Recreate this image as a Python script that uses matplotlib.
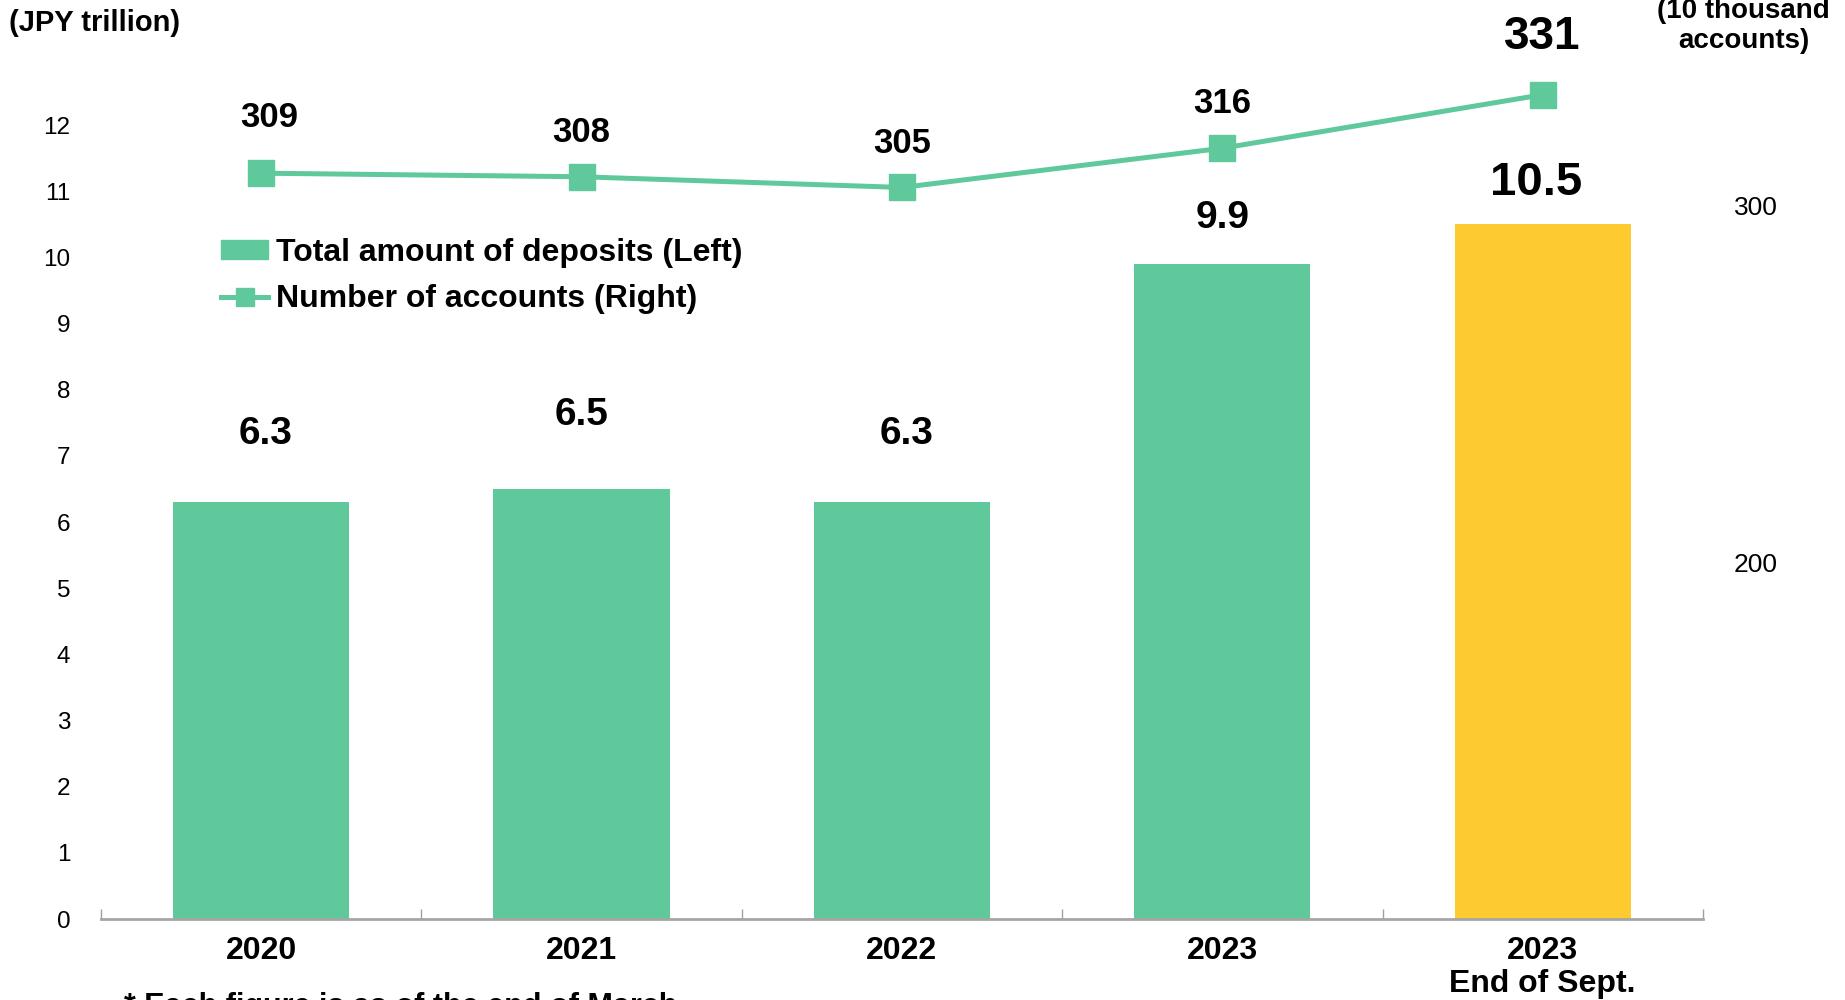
import numpy as np
import matplotlib
matplotlib.use("Agg")
import matplotlib.pyplot as plt
from matplotlib.patches import Patch
from matplotlib.lines import Line2D

plt.rcParams['font.family'] = ['Liberation Sans', 'DejaVu Sans']

# data
categories = ["2020", "2021", "2022", "2023", "2023\nEnd of Sept."]
deposits = [6.3, 6.5, 6.3, 9.9, 10.5]          # JPY trillion (left)
accounts = [309, 308, 305, 316, 331]           # 10 thousand accounts (right)
left_ticks = list(range(0, 13))
right_ticks = [200, 300]

green = "#5FC99C"
yellow = "#FDCB30"
bar_colors = [green, green, green, green, yellow]
# vertical gap (points) between mark and its label, and label sizes
bar_label_gap = [36, 40, 36, 20, 14]
bar_label_x = [3, 0, 3, 0, -5]
bar_label_size = [28, 28, 28, 28, 34]
line_label_gap = [28, 20, 20, 20, 26]
line_label_size = [25, 25, 25, 25, 33]

fig = plt.figure(figsize=(18.45, 10), dpi=100)
ax = fig.add_axes([0.0547, 0.081, 0.8683, 0.86])
x = np.arange(len(categories))

ax.bar(x, deposits, width=0.55, color=bar_colors, zorder=2)
ax.set_xlim(-0.5, 4.5)
ax.set_ylim(0, 13)
ax.set_yticks(left_ticks)
ax.tick_params(axis='y', length=0, pad=22, labelsize=17.5)
ax.set_xticks(x)
ax.set_xticklabels(categories, fontsize=23, fontweight='bold', linespacing=1.15)
ax.tick_params(axis='x', which='major', length=0, pad=12)
ax.set_xticks(np.arange(-0.5, 4.6, 1), minor=True)
ax.tick_params(axis='x', which='minor', direction='in', length=7, width=1, color='#A0A0A0')
for s in ['top', 'left', 'right']:
    ax.spines[s].set_visible(False)
ax.spines['bottom'].set_color('#A6A6A6')
ax.spines['bottom'].set_linewidth(2)

for i, v in enumerate(deposits):
    ax.annotate(f"{v:.1f}", (x[i], v), xytext=(bar_label_x[i], bar_label_gap[i]),
                textcoords='offset points', ha='center', va='bottom',
                fontsize=bar_label_size[i], fontweight='bold')

ax2 = ax.twinx()
ax2.plot(x, accounts, color=green, lw=3.6, marker='s', markersize=19, zorder=3)
ax2.set_ylim(100, 341)
ax2.set_yticks(right_ticks)
ax2.tick_params(axis='y', length=0, pad=22, labelsize=19)
for s in ['top', 'left', 'right', 'bottom']:
    ax2.spines[s].set_visible(False)

for i, v in enumerate(accounts):
    ax2.annotate(f"{v}", (x[i], v), xytext=(6 if i == 0 else 0, line_label_gap[i]),
                 textcoords='offset points', ha='center', va='bottom',
                 fontsize=line_label_size[i], fontweight='bold')

handles = [Patch(color=green),
           Line2D([], [], color=green, lw=3.6, marker='s', markersize=13)]
fig.legend(handles, ["Total amount of deposits (Left)", "Number of accounts (Right)"],
           loc='upper left', bbox_to_anchor=(0.12, 0.762), frameon=False,
           prop={'size': 23, 'weight': 'bold'}, handlelength=1.45, handleheight=0.55,
           handletextpad=0.25, labelspacing=0.5, borderpad=0, borderaxespad=0)

fig.text(0.005, 0.977, "(JPY trillion)", fontsize=21, fontweight='bold', ha='left', va='center')
fig.text(0.945, 0.974, "(10 thousand\naccounts)", fontsize=20, fontweight='bold',
         ha='center', va='center', linespacing=1.25)
fig.text(0.067, 0.008, "* Each figure is as of the end of March", fontsize=22,
         fontweight='bold', ha='left', va='top')

fig.savefig("out.png", dpi=100)
